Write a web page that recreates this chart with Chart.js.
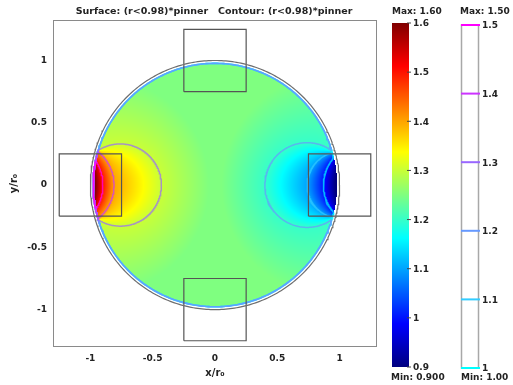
<!DOCTYPE html>
<html>
<head>
<meta charset="utf-8">
<script src="https://cdn.jsdelivr.net/npm/chart.js@4"></script>
<style>
  html, body { margin: 0; padding: 0; background: #fff; }
</style>
</head>
<body>
<canvas id="chart" width="513" height="385"></canvas>
<script>
// axis ticks
const xTicks = [-1, -0.5, 0, 0.5, 1];
const yTicks = [-1, -0.5, 0, 0.5, 1];

// colour ranges
const surfaceMin = 0.9;
const surfaceMax = 1.6;
const surfaceTicks = [0.9, 1, 1.1, 1.2, 1.3, 1.4, 1.5, 1.6];
const contourLevels = [1.0, 1.1, 1.2, 1.3, 1.4, 1.5];

// geometry
const diskRadius = 1.0;
const surfaceRadius = 0.98;
const squareCx = [0, -1, 1, 0];
const squareCy = [1, 0, 0, -1];
const squareHalf = 0.25;

// iso-circles: level, centre x, radius (outer -> inner)
const leftLevels = [1.25, 1.3, 1.4, 1.5, 1.6];
const leftCx = [-0.9, -0.76, -1.155, -1.268, -1.538];
const leftR = [0.85, 0.33, 0.345, 0.368, 0.578];
const rightLevels = [1.25, 1.2, 1.1, 1.0, 0.9];
const rightCx = [0.95, 0.74, 1.007, 1.198, 1.485];
const rightR = [0.9, 0.34, 0.267, 0.328, 0.52];
const baseLevel = 1.25;

function familyValue(levels, cx, r, x, y) {
  let k = -1;
  for (let i = 0; i < levels.length; i++) {
    if (Math.hypot(x - cx[i], y) <= r[i]) k = i; else break;
  }
  if (k < 0) return levels[0];
  if (k === levels.length - 1) return levels[k];
  const a = r[k] - Math.hypot(x - cx[k], y);
  const b = Math.hypot(x - cx[k + 1], y) - r[k + 1];
  const t = a / (a + b);
  return levels[k] + t * (levels[k + 1] - levels[k]);
}

function field(x, y) {
  return familyValue(leftLevels, leftCx, leftR, x, y) +
         familyValue(rightLevels, rightCx, rightR, x, y) - baseLevel;
}

function clamp01(v) { return Math.max(0, Math.min(1, v)); }

function jet(t) {
  t = clamp01(t);
  return [
    Math.round(255 * clamp01(Math.min(4 * t - 1.5, -4 * t + 4.5))),
    Math.round(255 * clamp01(Math.min(4 * t - 0.5, -4 * t + 3.5))),
    Math.round(255 * clamp01(Math.min(4 * t + 0.5, -4 * t + 2.5)))
  ];
}

function cool(level, alpha) {
  const t = clamp01((level - contourLevels[0]) / (contourLevels[contourLevels.length - 1] - contourLevels[0]));
  return "rgba(" + Math.round(255 * t) + "," + Math.round(255 * (1 - t)) + ",255," + (alpha || 1) + ")";
}

// ---- datasets ----
const datasets = [];
const N = 360;

// disk outline
const diskPts = [];
for (let i = 0; i <= N; i++) {
  const a = 2 * Math.PI * i / N;
  diskPts.push({ x: diskRadius * Math.cos(a), y: diskRadius * Math.sin(a) });
}
datasets.push({ data: diskPts, borderColor: "#6e6e6e", borderWidth: 1.2, order: 0 });

// squares
const sqPts = [];
for (let i = 0; i < squareCx.length; i++) {
  const cx = squareCx[i], cy = squareCy[i], h = squareHalf;
  sqPts.push({ x: cx - h, y: cy - h }, { x: cx + h, y: cy - h }, { x: cx + h, y: cy + h },
             { x: cx - h, y: cy + h }, { x: cx - h, y: cy - h }, { x: cx, y: null });
}
datasets.push({ data: sqPts, borderColor: "#555", borderWidth: 1.2, order: 0 });

// interior contour circles
function circleDataset(level, cx, r) {
  const pts = [];
  for (let i = 0; i <= N; i++) {
    const a = 2 * Math.PI * i / N;
    const x = cx + r * Math.cos(a), y = r * Math.sin(a);
    pts.push(Math.hypot(x, y) < surfaceRadius - 0.004 ? { x, y } : { x, y: null });
  }
  return { data: pts, borderColor: cool(level, 0.7), borderWidth: 1.5, order: 1 };
}
[[leftLevels, leftCx, leftR], [rightLevels, rightCx, rightR]].forEach(([lv, cx, r]) => {
  lv.forEach((L, i) => {
    if (contourLevels.includes(L)) datasets.push(circleDataset(L, cx[i], r[i]));
  });
});

// contours piled up at the surface edge r = 0.98
contourLevels.forEach((L, idx) => {
  const pts = [];
  const rr = surfaceRadius - 0.003;
  for (let i = 0; i <= N; i++) {
    const a = 2 * Math.PI * i / N;
    const x = rr * Math.cos(a), y = rr * Math.sin(a);
    const v = field(0.97 * Math.cos(a), 0.97 * Math.sin(a));
    pts.push(v >= L ? { x, y } : { x, y: null });
  }
  datasets.push({ data: pts, borderColor: cool(L, 0.85), borderWidth: 1.6, order: 10 - idx });
});

const FONT = "DejaVu Sans";

const surfacePlugin = {
  id: "surface",
  beforeDatasetsDraw(chart) {
    const { ctx, chartArea: a, scales: { x, y } } = chart;
    const w = Math.round(a.right - a.left), h = Math.round(a.bottom - a.top);
    const off = document.createElement("canvas");
    off.width = w; off.height = h;
    const octx = off.getContext("2d");
    const img = octx.createImageData(w, h);
    for (let j = 0; j < h; j++) {
      const yv = y.getValueForPixel(a.top + j + 0.5);
      for (let i = 0; i < w; i++) {
        const xv = x.getValueForPixel(a.left + i + 0.5);
        if (xv * xv + yv * yv >= surfaceRadius * surfaceRadius) continue;
        const c = jet((field(xv, yv) - surfaceMin) / (surfaceMax - surfaceMin));
        const k = (j * w + i) * 4;
        img.data[k] = c[0]; img.data[k + 1] = c[1]; img.data[k + 2] = c[2]; img.data[k + 3] = 255;
      }
    }
    octx.putImageData(img, 0, 0);
    ctx.drawImage(off, a.left, a.top);
  },
  afterDraw(chart) {
    const { ctx, chartArea: a } = chart;
    ctx.save();
    // frame
    ctx.strokeStyle = "#8a8a8a";
    ctx.lineWidth = 1;
    ctx.strokeRect(a.left + 0.5, a.top + 0.5, a.right - a.left - 1, a.bottom - a.top - 1);

    ctx.fillStyle = "#222";
    ctx.font = "bold 9.5px '" + FONT + "'";
    ctx.textBaseline = "middle";
    ctx.textAlign = "center";
    ctx.fillText("Surface: (r<0.98)*pinner   Contour: (r<0.98)*pinner", 214, 12);

    ctx.font = "bold 9px '" + FONT + "'";
    // surface colour bar
    const b1 = { left: 392, top: 23, right: 409, bottom: 367 };
    for (let yy = b1.top; yy < b1.bottom; yy++) {
      const c = jet((b1.bottom - yy - 0.5) / (b1.bottom - b1.top));
      ctx.fillStyle = "rgb(" + c.join(",") + ")";
      ctx.fillRect(b1.left, yy, b1.right - b1.left, 1);
    }
    ctx.fillStyle = "#222";
    ctx.textAlign = "left";
    surfaceTicks.forEach(v => {
      const py = b1.bottom - (v - surfaceMin) / (surfaceMax - surfaceMin) * (b1.bottom - b1.top);
      ctx.strokeStyle = "#444";
      ctx.beginPath(); ctx.moveTo(b1.right - 2, py); ctx.lineTo(b1.right + 2, py); ctx.stroke();
      ctx.fillText(String(v), b1.right + 4, py + 1);
    });
    ctx.fillText("Max: " + surfaceMax.toFixed(2), 392, 12);
    ctx.fillText("Min: " + surfaceMin.toFixed(3), 391, 378);

    // contour level bar
    const b2 = { left: 461, top: 25, right: 478, bottom: 368 };
    const cMin = contourLevels[0], cMax = contourLevels[contourLevels.length - 1];
    ctx.strokeStyle = "#a8a8a8";
    ctx.lineWidth = 1.5;
    ctx.strokeRect(b2.left + 0.5, b2.top, b2.right - b2.left, b2.bottom - b2.top);
    contourLevels.forEach(v => {
      const py = b2.bottom - (v - cMin) / (cMax - cMin) * (b2.bottom - b2.top);
      ctx.strokeStyle = cool(v);
      ctx.lineWidth = 2;
      ctx.beginPath(); ctx.moveTo(b2.left, py); ctx.lineTo(b2.right + 2, py); ctx.stroke();
      ctx.fillStyle = "#222";
      ctx.fillText(String(v), b2.right + 4, py + 1);
    });
    ctx.fillText("Max: " + cMax.toFixed(2), 460, 12);
    ctx.fillText("Min: " + cMin.toFixed(2), 461, 378);
    ctx.restore();
  }
};

const tickFont = { family: FONT, size: 9, weight: "bold" };

new Chart(document.getElementById("chart").getContext("2d"), {
  type: "scatter",
  data: { datasets: datasets.map(d => Object.assign({
    showLine: true, pointRadius: 0, pointHoverRadius: 0, spanGaps: false, fill: false, tension: 0
  }, d)) },
  options: {
    responsive: false,
    animation: false,
    events: [],
    layout: { padding: { left: 0, top: 20, right: 136, bottom: 0 } },
    plugins: { legend: { display: false }, tooltip: { enabled: false } },
    scales: {
      x: {
        type: "linear", min: -1.3, max: 1.3,
        afterBuildTicks: s => { s.ticks = xTicks.map(v => ({ value: v })); },
        afterFit: s => { s.height = 38; },
        grid: { display: false, drawTicks: false },
        border: { display: false },
        ticks: { font: tickFont, color: "#222", padding: 6, callback: v => String(v) },
        title: { display: true, text: "x/r\u2080", font: { family: FONT, size: 10, weight: "bold" }, color: "#222", padding: { top: 0, bottom: 6 } }
      },
      y: {
        type: "linear", min: -1.3, max: 1.325,
        afterBuildTicks: s => { s.ticks = yTicks.map(v => ({ value: v })); },
        afterFit: s => { s.width = 53; },
        grid: { display: false, drawTicks: false },
        border: { display: false },
        ticks: { font: tickFont, color: "#222", padding: 6, callback: v => String(v) },
        title: { display: true, text: "y/r\u2080", font: { family: FONT, size: 10, weight: "bold" }, color: "#222", padding: { top: 8, bottom: 0 } }
      }
    }
  },
  plugins: [surfacePlugin]
});
</script>
</body>
</html>
